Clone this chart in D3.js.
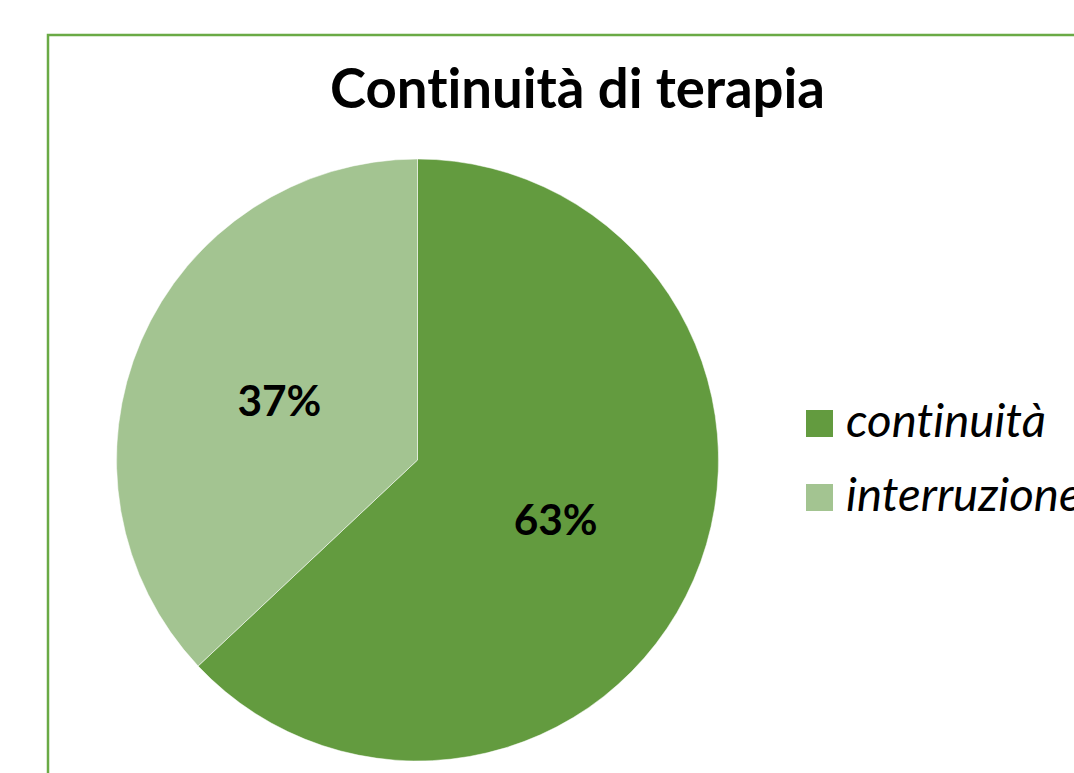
<!DOCTYPE html>
<html>
<head>
<meta charset="utf-8">
<script src="https://cdn.jsdelivr.net/npm/d3@7"></script>
<style>
  body { margin: 0; background: #fff; }
  svg { display: block; font-family: Lato, "Noto Sans", sans-serif; font-variant-ligatures: none; }
</style>
</head>
<body>
<svg id="svg" width="1074" height="773"></svg>
<script>
// chart data
var categories = ["continuità", "interruzione"];
var values = [63, 37];
var colors = ["#639b3f", "#a3c491"];
var title = "Continuità di terapia";

var svg = d3.select("#svg");

// chart area border (runs off the right and bottom of the page)
svg.append("rect")
  .attr("x", 48)
  .attr("y", 35)
  .attr("width", 1100)
  .attr("height", 800)
  .attr("fill", "none")
  .attr("stroke", "#6aaa45")
  .attr("stroke-width", 2.5);

// scale a text node's font so it is about the wanted width
function fitWidth(sel, target, start) {
  var size = start;
  sel.style("font-size", size + "px");
  var w = sel.node().getComputedTextLength();
  size = size * target / w;
  sel.style("font-size", size.toFixed(1) + "px");
  return size;
}

var titleText = svg.append("text")
  .attr("x", 577.5)
  .attr("y", 108)
  .attr("text-anchor", "middle")
  .style("font-weight", "bold")
  .text(title);
fitWidth(titleText, 495, 44);

var cx = 417.5, cy = 460, radius = 301;

var pie = d3.pie().sort(null).value(d => d.value);
var table = categories.map((c, i) => ({ name: c, value: values[i], color: colors[i] }));
var arcs = pie(table);

var arc = d3.arc().innerRadius(0).outerRadius(radius);
var labelArc = d3.arc().innerRadius(radius * 0.5).outerRadius(radius * 0.5);

var g = svg.append("g").attr("transform", `translate(${cx}, ${cy})`);

g.selectAll(".slice")
  .data(arcs)
  .enter()
  .append("path")
  .attr("class", "slice")
  .attr("d", arc)
  .attr("fill", d => d.data.color)
  .attr("stroke", "#ffffff")
  .attr("stroke-opacity", 0.5)
  .attr("stroke-width", 1);

var total = d3.sum(values);
var labels = g.selectAll(".lbl")
  .data(arcs)
  .enter()
  .append("text")
  .attr("class", "lbl")
  .attr("text-anchor", "middle")
  .attr("x", d => labelArc.centroid(d)[0])
  .attr("y", d => labelArc.centroid(d)[1])
  .attr("dy", "0.36em")
  .style("font-weight", "bold")
  .text(d => Math.round(d.data.value / total * 100) + "%");
var labelSize = fitWidth(labels.filter((d, i) => i === 1), 84, 40);
labels.style("font-size", labelSize.toFixed(1) + "px");

// legend
var legend = svg.append("g").attr("transform", "translate(806, 410)");
var item = legend.selectAll(".item")
  .data(table)
  .enter()
  .append("g")
  .attr("class", "item")
  .attr("transform", (d, i) => `translate(0, ${i * 74})`);

item.append("rect")
  .attr("width", 27)
  .attr("height", 27)
  .attr("fill", d => d.color);

var legendText = item.append("text")
  .attr("x", 40)
  .attr("y", 27)
  .style("font-style", "italic")
  .text(d => d.name);
var legendSize = fitWidth(legendText.filter((d, i) => i === 0), 200, 38);
legendText.style("font-size", legendSize.toFixed(1) + "px");
</script>
</body>
</html>
